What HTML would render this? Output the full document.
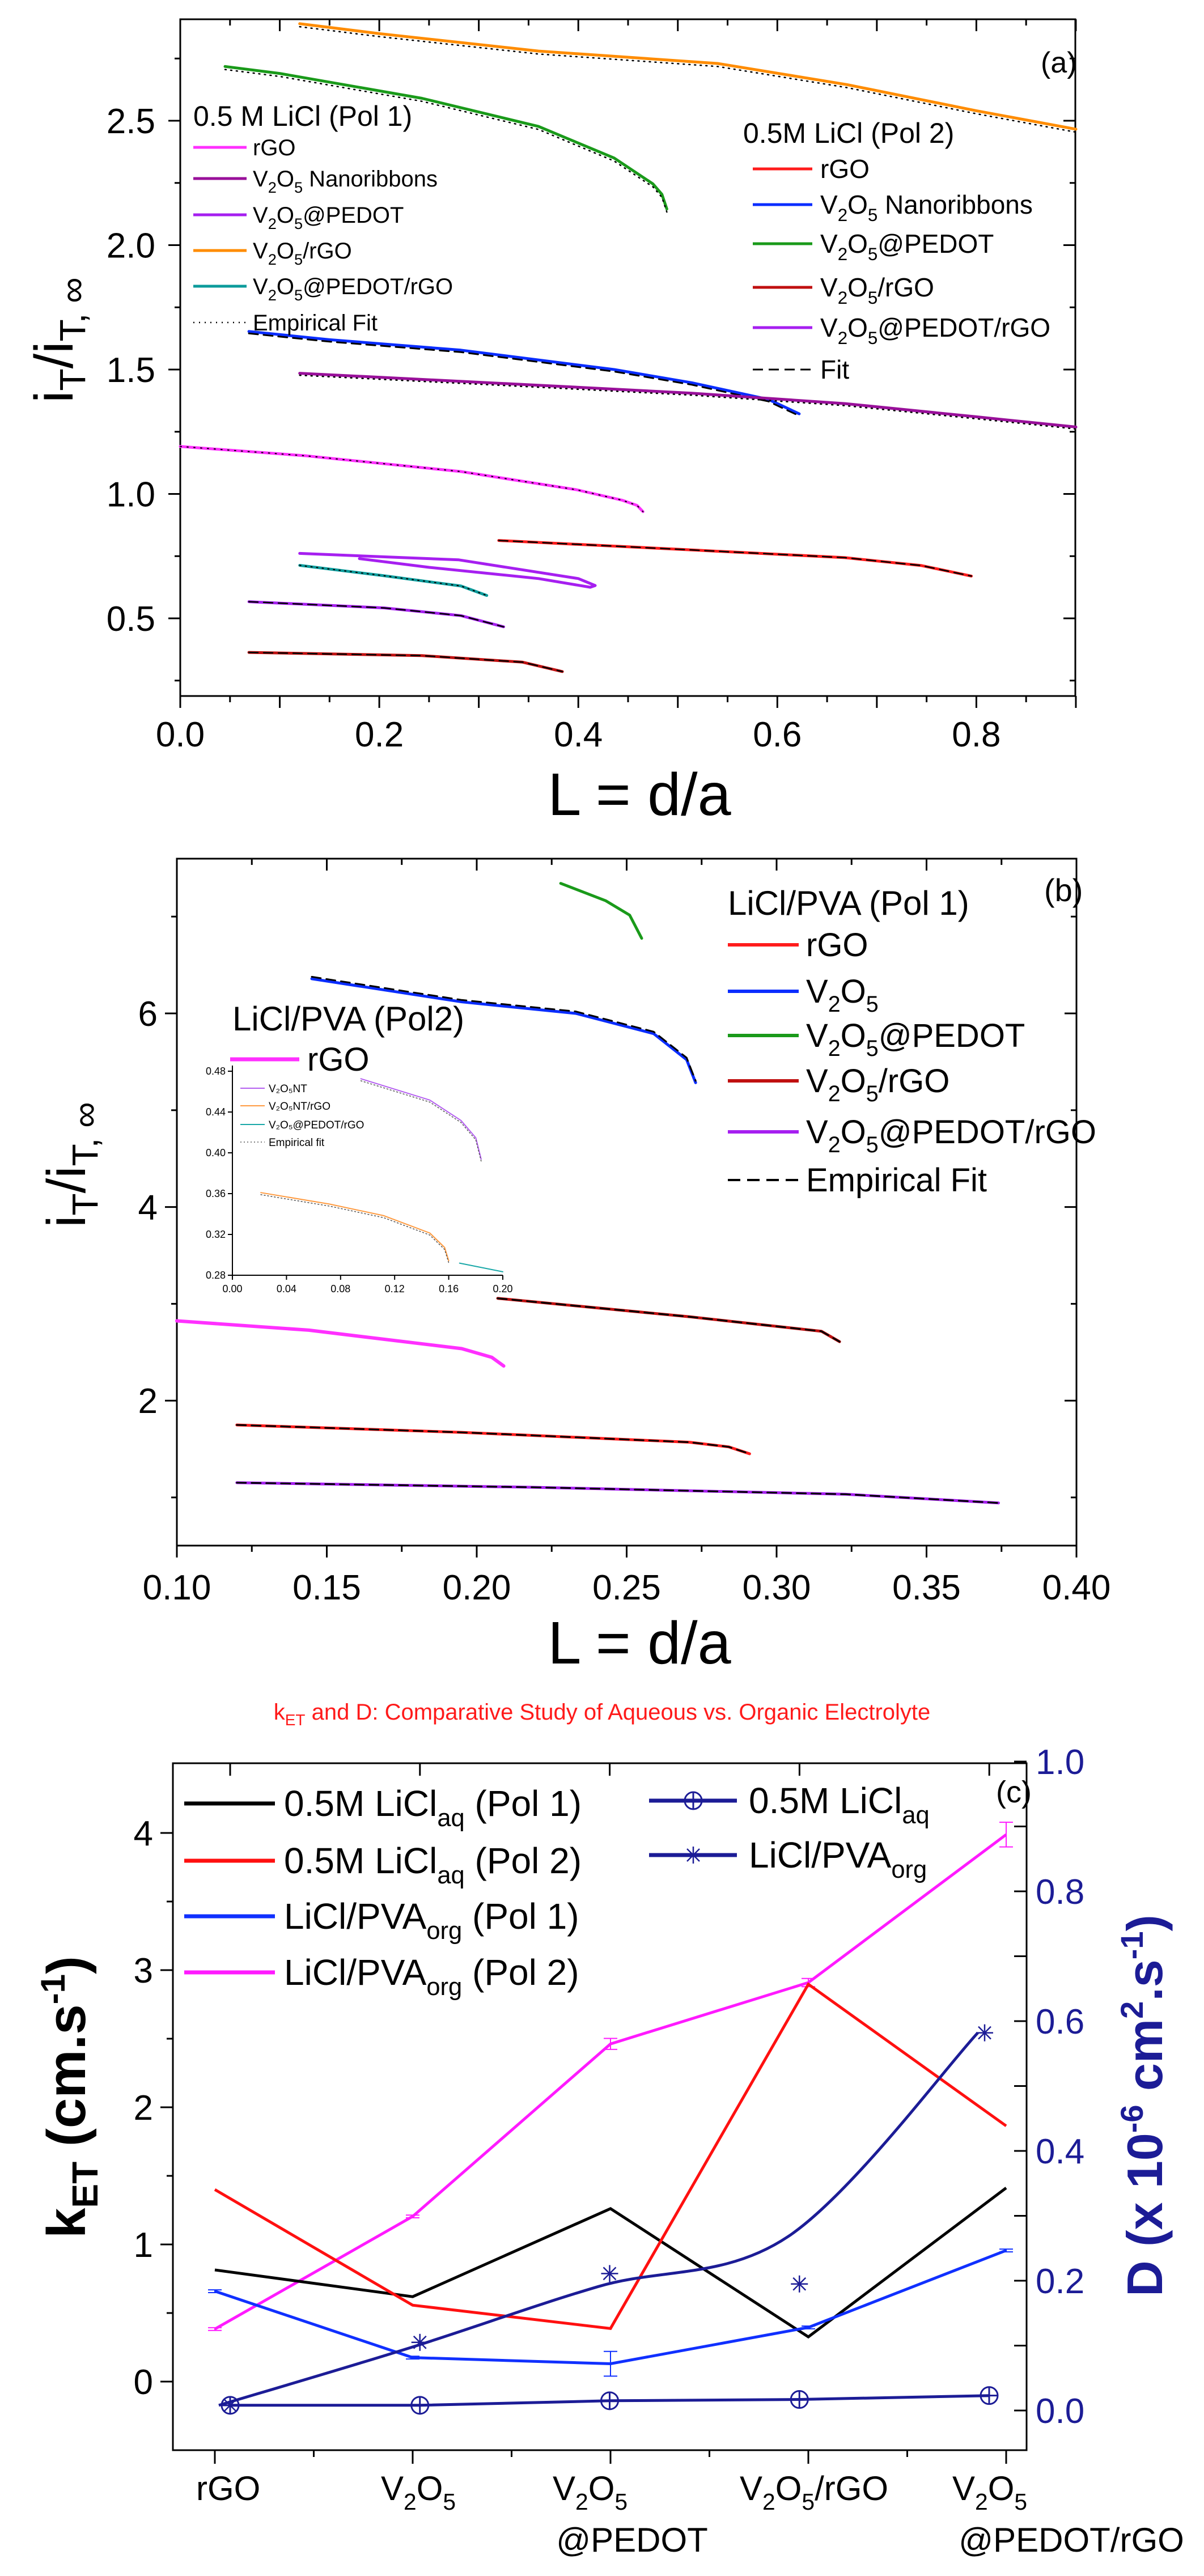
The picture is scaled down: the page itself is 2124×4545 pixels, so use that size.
<!DOCTYPE html>
<html><head><meta charset="utf-8"><style>
html,body{margin:0;padding:0;background:#fff;}
svg{display:block;font-family:"Liberation Sans",Arial,sans-serif;}
</style></head><body>
<svg id="fig" xmlns="http://www.w3.org/2000/svg" width="2124" height="4545" viewBox="0 0 2124 4545">
<rect x="0" y="0" width="2124" height="4545" fill="#fff"/>
<g id="pa"></g>
<g id="pb"></g>
<g id="pc"></g>

<!-- panel a static texts -->
<text x="1836" y="128" font-size="52">(a)</text>
<text x="1128" y="1438" font-size="106" text-anchor="middle">L = d/a</text>
<text transform="translate(128,600) rotate(-90)" font-size="96" text-anchor="middle">i<tspan font-size="64" dy="22">T</tspan><tspan dy="-22">/i</tspan><tspan font-size="64" dy="22">T</tspan><tspan font-size="64">, ∞</tspan></text>
<text x="341" y="222" font-size="50">0.5 M LiCl (Pol 1)</text>
<text x="1311" y="252" font-size="50">0.5M LiCl (Pol 2)</text>

<!-- panel b static -->
<text x="1842" y="1590" font-size="56">(b)</text>
<text x="1128" y="2935" font-size="106" text-anchor="middle">L = d/a</text>
<text transform="translate(150,2055) rotate(-90)" font-size="96" text-anchor="middle">i<tspan font-size="64" dy="22">T</tspan><tspan dy="-22">/i</tspan><tspan font-size="64" dy="22">T</tspan><tspan font-size="64">, ∞</tspan></text>
<text x="1284" y="1614" font-size="60">LiCl/PVA (Pol 1)</text>
<text x="410" y="1818" font-size="60">LiCl/PVA (Pol2)</text>

<!-- panel c static -->
<text x="1062" y="3034" font-size="40" fill="#ff1a1a" text-anchor="middle">k<tspan font-size="28" dy="10">ET</tspan><tspan dy="-10"> and D: Comparative Study of Aqueous vs. Organic Electrolyte</tspan></text>
<text x="1757" y="3180" font-size="54">(c)</text>
<text transform="translate(150,3700) rotate(-90)" font-size="96" text-anchor="middle" font-weight="bold">k<tspan font-size="64" dy="22">ET</tspan><tspan dy="-22">  (cm.s</tspan><tspan font-size="60" dy="-36">-1</tspan><tspan dy="36">)</tspan></text>
<text transform="translate(2050,3715) rotate(-90)" font-size="88" text-anchor="middle" font-weight="bold" fill="#1c1c96">D (x 10<tspan font-size="56" dy="-34">-6</tspan><tspan dy="34"> cm</tspan><tspan font-size="56" dy="-34">2</tspan><tspan dy="34">.s</tspan><tspan font-size="56" dy="-34">-1</tspan><tspan dy="34">)</tspan></text>
</svg>
<script>
const NS="http://www.w3.org/2000/svg";
function mk(parent,tag,attrs,name,inter){
  const el=document.createElementNS(NS,tag);
  for(const k in attrs) el.setAttribute(k,attrs[k]);
  
  
  parent.appendChild(el);
  return el;
}
function txt(parent,x,y,s,size,anchor,name,fill){
  const t=mk(parent,'text',{x:x,y:y,'font-size':size,'text-anchor':anchor||'start',fill:fill||'#000'},name,false);
  t.textContent=s;return t;
}
function subTxt(parent,x,y,parts,size,name,fill){
  // parts: array of [text, mode] mode: n, sub, sup
  const t=mk(parent,'text',{x:x,y:y,'font-size':size,fill:fill||'#000'},name,false);
  let cur=0;
  parts.forEach(p=>{
    const s=document.createElementNS(NS,'tspan');
    let target=p[1]==='sub'?size*0.28:(p[1]==='sup'?-size*0.4:0);
    s.setAttribute('dy',target-cur);cur=target;
    if(p[1]!=='n') s.setAttribute('font-size',size*0.68);
    s.textContent=p[0];t.appendChild(s);
  });
  return t;
}

/* ================= PANEL A data ================= */
const aOrangeX=[0.12,0.20,0.36,0.54,0.67,0.80,0.90];
const aOrangeY=[2.89,2.85,2.78,2.73,2.645,2.54,2.466];
const aGreenX=[0.045,0.10,0.243,0.36,0.436,0.475,0.484,0.489];
const aGreenY=[2.718,2.69,2.59,2.477,2.35,2.246,2.204,2.145];
const aBlueX=[0.069,0.15,0.282,0.436,0.514,0.591,0.622];
const aBlueY=[1.653,1.62,1.578,1.50,1.447,1.38,1.322];
const aPurpleX=[0.12,0.36,0.514,0.668,0.80,0.90];
const aPurpleY=[1.485,1.437,1.405,1.363,1.31,1.269];
const aMagentaX=[0.0,0.127,0.282,0.398,0.444,0.459,0.465];
const aMagentaY=[1.191,1.153,1.09,1.017,0.975,0.954,0.929];
const aRedX=[0.32,0.514,0.668,0.745,0.795];
const aRedY=[0.813,0.775,0.744,0.712,0.670];
const aLoopX=[0.12,0.28,0.40,0.417,0.412,0.36,0.25,0.18];
const aLoopY=[0.761,0.735,0.66,0.632,0.625,0.66,0.705,0.74];
const aTealX=[0.12,0.205,0.282,0.308];
const aTealY=[0.713,0.671,0.63,0.592];
const aVioletX=[0.069,0.205,0.282,0.325];
const aVioletY=[0.567,0.542,0.511,0.466];
const aDarkRedX=[0.069,0.243,0.344,0.384];
const aDarkRedY=[0.363,0.35,0.324,0.286];
const aXTicks=["0.0","0.2","0.4","0.6","0.8"];
const aYTicks=["0.5","1.0","1.5","2.0","2.5"];

const ax=v=>318+v*1755.5;
const ay=v=>213+(2.5-v)*439;
const bx=v=>312+(v-0.1)/0.3*1587;
const by=v=>1788+(6-v)*170.8;
const ix=v=>410+v/0.2*477;
const iy=v=>1890+(0.48-v)*1800;

function poly(g,X,Y,fx,fy,color,w,name,dash){
  const pts=X.map((x,i)=>fx(x).toFixed(1)+','+fy(Y[i]).toFixed(1)).join(' ');
  const a={points:pts,fill:'none',stroke:color,'stroke-width':w,'stroke-linejoin':'round','stroke-linecap':'round'};
  if(dash) a['stroke-dasharray']=dash;
  return mk(g,'polyline',a,name,false);
}
function frame(g,L,T,R,B,name){
  mk(g,'rect',{x:L,y:T,width:R-L,height:B-T,fill:'none',stroke:'#000','stroke-width':3},name,false);
}
function line(g,x1,y1,x2,y2,name,col,w){
  return mk(g,'line',{x1:x1,y1:y1,x2:x2,y2:y2,stroke:col||'#000','stroke-width':w||3},name,false);
}

const pa=document.getElementById('pa');
frame(pa,318,34,1897,1228,'panel-a-plot-frame');
for(let k=0;k<=18;k++){const v=k*0.05,x=ax(v),maj=k%2===0;
  line(pa,x,1228,x,1228+(maj?21:11),'panel-a-x-tick');
  line(pa,x,34,x,34+(maj?21:11),'panel-a-top-tick');}
for(let k=1;k<=11;k++){const v=k*0.25,y=ay(v),maj=k%2===0;
  line(pa,318,y,318-(maj?21:10),y,'panel-a-y-tick');
  line(pa,1897,y,1897-(maj?21:10),y,'panel-a-right-tick');}
aXTicks.forEach(s=>txt(pa,ax(parseFloat(s)),1317,s,62,'middle','panel-a-x-tick-label'));
aYTicks.forEach(s=>txt(pa,274,ay(parseFloat(s))+22,s,62,'end','panel-a-y-tick-label'));

poly(pa,aOrangeX,aOrangeY,ax,ay,'#ff8c00',5,'series-a-v2o5-rgo-pol1');
poly(pa,aOrangeX,aOrangeY.map(v=>v-0.012),ax,ay,'#000',2.5,'fit-a-v2o5-rgo-pol1','2 8');
poly(pa,aGreenX,aGreenY,ax,ay,'#1a9a1a',5,'series-a-v2o5-pedot-pol2');
poly(pa,aGreenX,aGreenY.map(v=>v-0.012),ax,ay,'#000',2.5,'fit-a-v2o5-pedot-pol2','2 8');
poly(pa,aBlueX,aBlueY,ax,ay,'#0a2dff',5,'series-a-v2o5-nanoribbons-pol2');
poly(pa,aBlueX,aBlueY.map(v=>v-0.008),ax,ay,'#000',3,'fit-a-v2o5-nanoribbons-pol2','16 10');
poly(pa,aPurpleX,aPurpleY,ax,ay,'#99109a',5,'series-a-v2o5-nanoribbons-pol1');
poly(pa,aPurpleX,aPurpleY.map(v=>v-0.008),ax,ay,'#000',2.5,'fit-a-v2o5-nanoribbons-pol1','2 8');
poly(pa,aMagentaX,aMagentaY,ax,ay,'#ff30ff',5,'series-a-rgo-pol1');
poly(pa,aMagentaX,aMagentaY,ax,ay,'#000',2,'fit-a-rgo-pol1','2 10');
poly(pa,aRedX,aRedY,ax,ay,'#ff1c1c',5,'series-a-rgo-pol2');
poly(pa,aRedX,aRedY,ax,ay,'#000',2.5,'fit-a-rgo-pol2','16 10');
poly(pa,aLoopX,aLoopY,ax,ay,'#a61ff0',5,'series-a-v2o5-pedot-pol1');
poly(pa,aTealX,aTealY,ax,ay,'#0c9b9b',5,'series-a-v2o5-pedot-rgo-pol1');
poly(pa,aTealX,aTealY,ax,ay,'#000',2,'fit-a-v2o5-pedot-rgo-pol1','2 8');
poly(pa,aVioletX,aVioletY,ax,ay,'#a61ff0',5,'series-a-v2o5-pedot-rgo-pol2');
poly(pa,aVioletX,aVioletY,ax,ay,'#000',2.5,'fit-a-v2o5-pedot-rgo-pol2','16 10');
poly(pa,aDarkRedX,aDarkRedY,ax,ay,'#c01010',5,'series-a-v2o5-rgo-pol2');
poly(pa,aDarkRedX,aDarkRedY,ax,ay,'#000',2.5,'fit-a-v2o5-rgo-pol2','16 10');

// legends panel a
const legA1=[['#ff30ff',[['rGO','n']]],['#99109a',[['V','n'],['2','sub'],['O','n'],['5','sub'],[' Nanoribbons','n']]],
 ['#a61ff0',[['V','n'],['2','sub'],['O','n'],['5','sub'],['@PEDOT','n']]],['#ff8c00',[['V','n'],['2','sub'],['O','n'],['5','sub'],['/rGO','n']]],
 ['#0c9b9b',[['V','n'],['2','sub'],['O','n'],['5','sub'],['@PEDOT/rGO','n']]]];
const legA1Y=[260,315,379,442,505];
legA1.forEach((e,i)=>{line(pa,341,legA1Y[i],435,legA1Y[i],'legend-a-pol1-swatch',e[0],5);
  subTxt(pa,446,legA1Y[i]+14,e[1],40,'legend-a-pol1-label');});
line(pa,341,569,435,569,'legend-a-empirical-fit-swatch','#000',2.5).setAttribute('stroke-dasharray','2 8');
txt(pa,446,583,'Empirical Fit',40,'start','legend-a-empirical-fit-label');
const legA2=[['#ff1c1c',[['rGO','n']]],['#0a2dff',[['V','n'],['2','sub'],['O','n'],['5','sub'],[' Nanoribbons','n']]],
 ['#1a9a1a',[['V','n'],['2','sub'],['O','n'],['5','sub'],['@PEDOT','n']]],['#c01010',[['V','n'],['2','sub'],['O','n'],['5','sub'],['/rGO','n']]],
 ['#a61ff0',[['V','n'],['2','sub'],['O','n'],['5','sub'],['@PEDOT/rGO','n']]]];
const legA2Y=[298,361,430,507,578];
legA2.forEach((e,i)=>{line(pa,1328,legA2Y[i],1433,legA2Y[i],'legend-a-pol2-swatch',e[0],5);
  subTxt(pa,1447,legA2Y[i]+16,e[1],46,'legend-a-pol2-label');});
line(pa,1328,652,1433,652,'legend-a-fit-swatch','#000',3).setAttribute('stroke-dasharray','18 10');
txt(pa,1447,668,'Fit',46,'start','legend-a-fit-label');

/* ================= PANEL B ================= */
const bGreenX=[0.228,0.243,0.251,0.255];
const bGreenY=[7.343,7.164,7.015,6.776];
const bBlueX=[0.145,0.195,0.233,0.259,0.270,0.273];
const bBlueY=[6.358,6.119,6.0,5.791,5.522,5.284];
const bMagentaX=[0.10,0.144,0.195,0.205,0.209];
const bMagentaY=[2.824,2.728,2.537,2.448,2.358];
const bDarkRedX=[0.207,0.271,0.315,0.321];
const bDarkRedY=[3.057,2.866,2.716,2.609];
const bRedX=[0.12,0.195,0.271,0.284,0.291];
const bRedY=[1.749,1.672,1.57,1.522,1.451];
const bVioletX=[0.12,0.22,0.323,0.374];
const bVioletY=[1.152,1.104,1.033,0.943];
const insVX=[0.095,0.146,0.169,0.180,0.184];
const insVY=[0.4726,0.4517,0.4318,0.4148,0.3939];
const insOX=[0.021,0.072,0.112,0.146,0.157,0.160];
const insOY=[0.361,0.3497,0.3384,0.3214,0.3072,0.2942];
const insTX=[0.168,0.200];
const insTY=[0.2919,0.2834];
const bXTicks=["0.10","0.15","0.20","0.25","0.30","0.35","0.40"];
const bYTicks=["2","4","6"];
const insXTicks=["0.00","0.04","0.08","0.12","0.16","0.20"];
const insYTicks=["0.28","0.32","0.36","0.40","0.44","0.48"];

const pb=document.getElementById('pb');
frame(pb,312,1515,1899,2727,'panel-b-plot-frame');
for(let k=0;k<=12;k++){const v=0.1+k*0.025,x=bx(v),maj=k%2===0;
  line(pb,x,2727,x,2727+(maj?21:11),'panel-b-x-tick');
  line(pb,x,1515,x,1515+(maj?21:11),'panel-b-top-tick');}
for(let k=1;k<=7;k++){const y=by(k),maj=k%2===0;
  line(pb,312,y,312-(maj?21:10),y,'panel-b-y-tick');
  line(pb,1899,y,1899-(maj?21:10),y,'panel-b-right-tick');}
bXTicks.forEach(s=>txt(pb,bx(parseFloat(s)),2822,s,62,'middle','panel-b-x-tick-label'));
bYTicks.forEach(s=>txt(pb,278,by(parseFloat(s))+22,s,62,'end','panel-b-y-tick-label'));

poly(pb,bGreenX,bGreenY,bx,by,'#1a9a1a',5,'series-b-v2o5-pedot-pol1');
poly(pb,bBlueX,bBlueY,bx,by,'#0a2dff',5,'series-b-v2o5-pol1');
poly(pb,bBlueX,bBlueY.map(v=>v+0.02),bx,by,'#000',3,'fit-b-v2o5-pol1','16 10');
poly(pb,bMagentaX,bMagentaY,bx,by,'#ff30ff',6,'series-b-rgo-pol2');
poly(pb,bDarkRedX,bDarkRedY,bx,by,'#c01010',5,'series-b-v2o5-rgo-pol1');
poly(pb,bDarkRedX,bDarkRedY,bx,by,'#000',3,'fit-b-v2o5-rgo-pol1','16 10');
poly(pb,bRedX,bRedY,bx,by,'#ff1c1c',5,'series-b-rgo-pol1');
poly(pb,bRedX,bRedY,bx,by,'#000',3,'fit-b-rgo-pol1','16 10');
poly(pb,bVioletX,bVioletY,bx,by,'#a61ff0',5,'series-b-v2o5-pedot-rgo-pol1');
poly(pb,bVioletX,bVioletY,bx,by,'#000',3,'fit-b-v2o5-pedot-rgo-pol1','16 10');

// inset
line(pb,410,1880,410,2250,'inset-y-axis','#000',2);
line(pb,410,2250,887,2250,'inset-x-axis','#000',2);
insXTicks.forEach(s=>{const x=ix(parseFloat(s));line(pb,x,2250,x,2258,'inset-x-tick','#000',2);
  txt(pb,x,2280,s,18,'middle','inset-x-tick-label');});
insYTicks.forEach(s=>{const y=iy(parseFloat(s));line(pb,410,y,402,y,'inset-y-tick','#000',2);
  txt(pb,398,y+6,s,18,'end','inset-y-tick-label');});
poly(pb,insVX,insVY,ix,iy,'#b45ff0',2,'inset-series-v2o5nt');
poly(pb,insVX,insVY.map(v=>v-0.002),ix,iy,'#555',1.5,'inset-fit-v2o5nt','2 4');
poly(pb,insOX,insOY,ix,iy,'#ff9a40',2,'inset-series-v2o5nt-rgo');
poly(pb,insOX,insOY.map(v=>v-0.002),ix,iy,'#555',1.5,'inset-fit-v2o5nt-rgo','2 4');
poly(pb,insTX,insTY,ix,iy,'#1aa8a8',2,'inset-series-v2o5-pedot-rgo');
const insLeg=[['#b45ff0','V₂O₅NT'],['#ff9a40','V₂O₅NT/rGO'],['#1aa8a8','V₂O₅@PEDOT/rGO']];
const insLegY=[1920,1951,1984];
insLeg.forEach((e,i)=>{line(pb,424,insLegY[i],467,insLegY[i],'inset-legend-swatch',e[0],2);
  txt(pb,474,insLegY[i]+7,e[1],19,'start','inset-legend-label');});
line(pb,424,2015,467,2015,'inset-legend-fit-swatch','#555',1.5).setAttribute('stroke-dasharray','2 4');
txt(pb,474,2022,'Empirical fit',19,'start','inset-legend-fit-label');

// legend b
line(pb,406,1869,528,1869,'legend-b-pol2-swatch','#ff30ff',7);
txt(pb,542,1889,'rGO',58,'start','legend-b-pol2-label');
const legB=[['#ff1c1c',[['rGO','n']]],['#0a2dff',[['V','n'],['2','sub'],['O','n'],['5','sub']]],
 ['#1a9a1a',[['V','n'],['2','sub'],['O','n'],['5','sub'],['@PEDOT','n']]],['#c01010',[['V','n'],['2','sub'],['O','n'],['5','sub'],['/rGO','n']]],
 ['#a61ff0',[['V','n'],['2','sub'],['O','n'],['5','sub'],['@PEDOT/rGO','n']]]];
const legBY=[1667,1749,1827,1907,1997];
legB.forEach((e,i)=>{line(pb,1284,legBY[i],1409,legBY[i],'legend-b-pol1-swatch',e[0],6);
  subTxt(pb,1422,legBY[i]+20,e[1],58,'legend-b-pol1-label');});
line(pb,1284,2082,1409,2082,'legend-b-fit-swatch','#000',4).setAttribute('stroke-dasharray','22 12');
txt(pb,1422,2102,'Empirical Fit',58,'start','legend-b-fit-label');

/* ================= PANEL C ================= */
const cCats=["rGO","V2O5","V2O5@PEDOT","V2O5/rGO","V2O5@PEDOT/rGO"];
const kAqPol1=[0.814,0.619,1.261,0.326,1.412];
const kAqPol2=[1.40,0.557,0.387,2.897,1.864];
const kOrgPol1=[0.659,0.175,0.13,0.395,0.956];
const kOrgPol2=[0.383,1.204,2.462,2.909,3.988];
const kOrgPol1Err=[0.01,0.01,0.09,0.01,0.01];
const kOrgPol2Err=[0.01,0.01,0.04,0.03,0.09];
const dAq=[0.008,0.008,0.015,0.017,0.023];
const dOrg=[0.008,0.105,0.211,0.195,0.582];
const dOrgCurve=[0.008,0.096,0.191,0.268,0.582];
const cLeftTicks=["0","1","2","3","4"];
const cRightTicks=["0.0","0.2","0.4","0.6","0.8","1.0"];

const cx=i=>379+i*349;
const ky=v=>4202-v*242;
const dx=i=>406+i*334.75;
const dy=v=>4253-v*1145;

const pc=document.getElementById('pc');
frame(pc,305,3111,1811,4323,'panel-c-plot-frame');
for(let k=0;k<=8;k++){const x=379+k*174.5,maj=k%2===0;
  line(pc,x,4323,x,4323+(maj?24:12),'panel-c-x-tick');}
for(let k=0;k<=8;k++){const x=406+k*167.4,maj=k%2===0;
  if(x<1811) line(pc,x,3111,x,3111+(maj?22:0),'panel-c-top-tick');}
for(let k=-1;k<=8;k++){const v=k*0.5,y=ky(v),maj=k%2===0;
  if(y>3111&&y<4323) line(pc,305,y,305-(maj?22:11),y,'panel-c-left-tick');}
for(let k=0;k<=10;k++){const v=k*0.1,y=dy(v),maj=k%2===0;
  if(y>=3108&&y<4323) line(pc,1811,y,1811-(maj?22:22),y,'panel-c-right-tick','#000',3);}
cLeftTicks.forEach(s=>txt(pc,270,ky(parseFloat(s))+22,s,62,'end','panel-c-left-tick-label'));
cRightTicks.forEach(s=>txt(pc,1827,dy(parseFloat(s))+22,s,62,'start','panel-c-right-tick-label','#1c1c96'));
// category labels
const catL1=[[['rGO','n']],[['V','n'],['2','sub'],['O','n'],['5','sub']],[['V','n'],['2','sub'],['O','n'],['5','sub']],[['V','n'],['2','sub'],['O','n'],['5','sub'],['/rGO','n']],[['V','n'],['2','sub'],['O','n'],['5','sub']]];
const catX1=[346,672,975,1305,1680];
catL1.forEach((p,i)=>subTxt(pc,catX1[i],4411,p,60,'category-label-'+i));
txt(pc,1115,4502,'@PEDOT',60,'middle','category-label-2-line2');
txt(pc,1890,4502,'@PEDOT/rGO',60,'middle','category-label-4-line2');

function ebars(g,vals,errs,col,name){
  vals.forEach((v,i)=>{const x=cx(i);
    line(g,x,ky(v+errs[i]),x,ky(v-errs[i]),name,col,2);
    line(g,x-12,ky(v+errs[i]),x+12,ky(v+errs[i]),name,col,2);
    line(g,x-12,ky(v-errs[i]),x+12,ky(v-errs[i]),name,col,2);});
}
function catPoly(g,vals,fx,fy,col,w,name){
  const pts=vals.map((v,i)=>fx(i).toFixed(1)+','+fy(v).toFixed(1)).join(' ');
  return mk(g,'polyline',{points:pts,fill:'none',stroke:col,'stroke-width':w,'stroke-linejoin':'miter'},name,false);
}
catPoly(pc,kOrgPol2,cx,ky,'#ff1aff',5,'series-c-licl-pva-pol2');
ebars(pc,kOrgPol2,kOrgPol2Err,'#ff1aff','errorbar-c-licl-pva-pol2');
catPoly(pc,kAqPol1,cx,ky,'#000',5,'series-c-licl-aq-pol1');
catPoly(pc,kAqPol2,cx,ky,'#ff1010',5,'series-c-licl-aq-pol2');
catPoly(pc,kOrgPol1,cx,ky,'#1030ff',5,'series-c-licl-pva-pol1');
ebars(pc,kOrgPol1,kOrgPol1Err,'#1030ff','errorbar-c-licl-pva-pol1');

// D org smooth curve (Catmull-Rom)
(function(){
  const P=dOrgCurve.map((v,i)=>[dx(i)-20+ (i===0?0:0),dy(v)]);
  let d='M'+P[0][0]+','+P[0][1];
  for(let i=0;i<P.length-1;i++){
    const p0=P[Math.max(i-1,0)],p1=P[i],p2=P[i+1],p3=P[Math.min(i+2,P.length-1)];
    const c1=[p1[0]+(p2[0]-p0[0])/6,p1[1]+(p2[1]-p0[1])/6];
    const c2=[p2[0]-(p3[0]-p1[0])/6,p2[1]-(p3[1]-p1[1])/6];
    d+=' C'+c1[0].toFixed(1)+','+c1[1].toFixed(1)+' '+c2[0].toFixed(1)+','+c2[1].toFixed(1)+' '+p2[0].toFixed(1)+','+p2[1].toFixed(1);
  }
  mk(pc,'path',{d:d,fill:'none',stroke:'#1c1c96','stroke-width':5},'series-c-d-licl-pva-curve',false);
})();
catPoly(pc,dAq,dx,dy,'#1c1c96',5,'series-c-d-licl-aq');
function circMarker(g,x,y,name){
  mk(g,'circle',{cx:x,cy:y,r:15,fill:'none',stroke:'#1c1c96','stroke-width':3},name,false);
  line(g,x-15,y,x+15,y,name+'-h','#1c1c96',3);
  line(g,x,y-15,x,y+15,name+'-v','#1c1c96',3);
}
function starMarker(g,x,y,name){
  [[-15,0,15,0],[0,-15,0,15],[-11,-11,11,11],[-11,11,11,-11]].forEach(s=>line(g,x+s[0],y+s[1],x+s[2],y+s[3],name,'#1c1c96',2.5));
}
dAq.forEach((v,i)=>circMarker(pc,dx(i),dy(v),'marker-c-d-aq'));
dOrg.forEach((v,i)=>starMarker(pc,dx(i)-(i===4?8:0),dy(v),'marker-c-d-org'));

// legend c
const legC=[['#000',[['0.5M LiCl','n'],['aq','sub'],[' (Pol 1)','n']]],['#ff1010',[['0.5M LiCl','n'],['aq','sub'],[' (Pol 2)','n']]],
 ['#1030ff',[['LiCl/PVA','n'],['org','sub'],[' (Pol 1)','n']]],['#ff1aff',[['LiCl/PVA','n'],['org','sub'],[' (Pol 2)','n']]]];
const legCY=[3182,3283,3381,3480];
legC.forEach((e,i)=>{line(pc,325,legCY[i],485,legCY[i],'legend-c-swatch',e[0],7);
  subTxt(pc,501,legCY[i]+22,e[1],64,'legend-c-label');});
line(pc,1145,3177,1300,3177,'legend-c-d-aq-swatch','#1c1c96',7);
circMarker(pc,1223,3177,'legend-c-d-aq-marker');
subTxt(pc,1321,3199,[['0.5M LiCl','n'],['aq','sub']],64,'legend-c-d-aq-label');
line(pc,1145,3273,1300,3273,'legend-c-d-org-swatch','#1c1c96',7);
starMarker(pc,1223,3273,'legend-c-d-org-marker');
subTxt(pc,1321,3295,[['LiCl/PVA','n'],['org','sub']],64,'legend-c-d-org-label');
</script>
</body></html>
